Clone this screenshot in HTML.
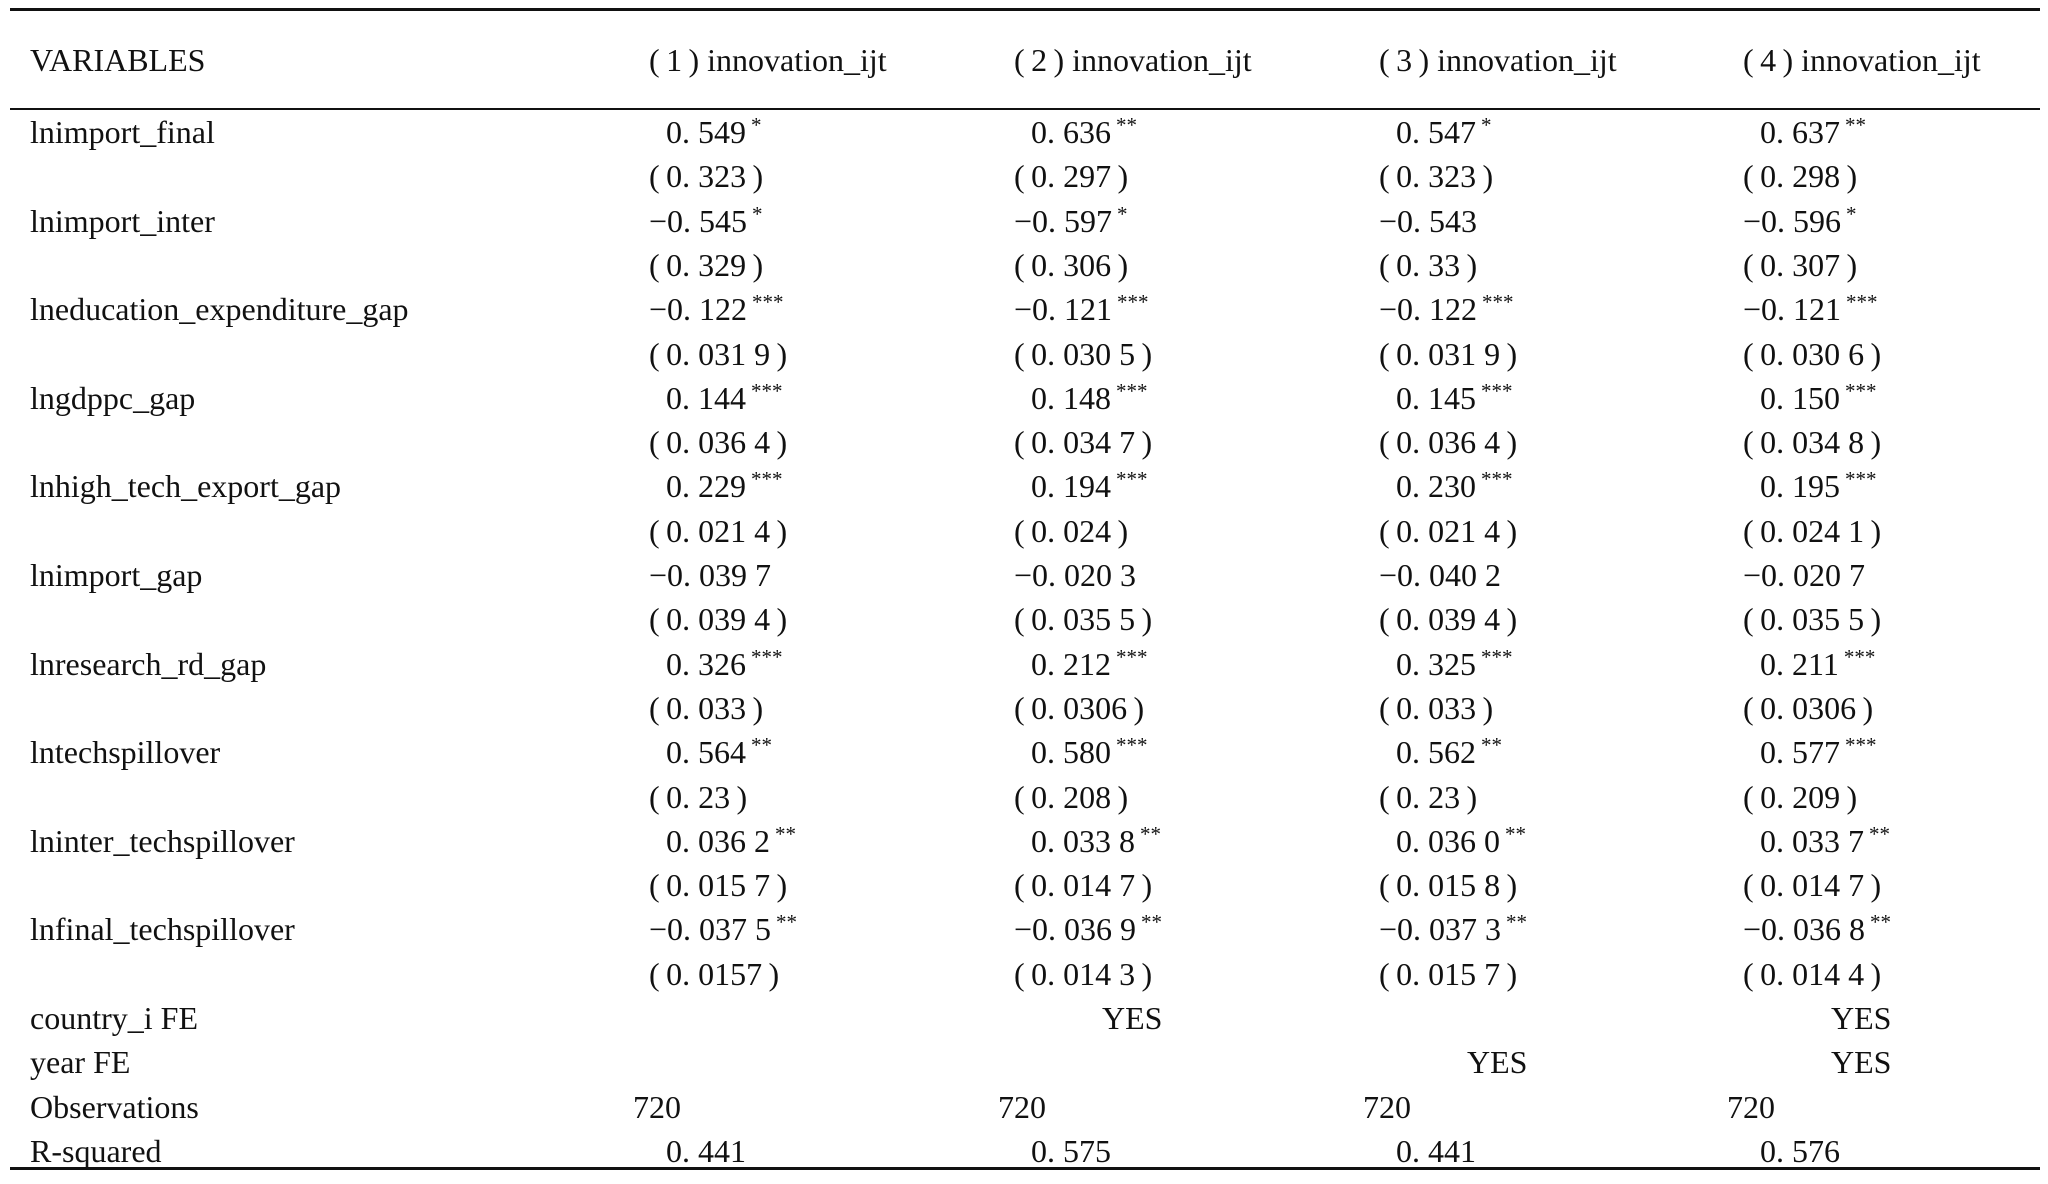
<!DOCTYPE html>
<html><head><meta charset="utf-8"><style>
body{margin:0;background:#fff;}
#t{position:relative;width:2048px;height:1184px;background:#fff;font-family:"Liberation Serif","Noto Serif CJK SC",serif;font-size:32px;color:#111;overflow:hidden;}
.c{position:absolute;white-space:pre;line-height:1;transform:translateY(-50%);}
.line{position:absolute;left:10px;width:2030px;background:#111;}
sup{font-size:21px;vertical-align:0;position:relative;top:-11px;margin-left:5px;}
</style></head><body>
<div id="t">
<div class="line" style="top:8px;height:3px"></div>
<div class="line" style="top:108px;height:1.5px"></div>
<div class="line" style="top:1167px;height:3px"></div>
</div>
<script>
const vars=["lnimport_final","lnimport_inter","lneducation_expenditure_gap","lngdppc_gap","lnhigh_tech_export_gap","lnimport_gap","lnresearch_rd_gap","lntechspillover","lninter_techspillover","lnfinal_techspillover"];
const coef=[
["0. 549|*","0. 636|**","0. 547|*","0. 637|**"],
["−0. 545|*","−0. 597|*","−0. 543|","−0. 596|*"],
["−0. 122|***","−0. 121|***","−0. 122|***","−0. 121|***"],
["0. 144|***","0. 148|***","0. 145|***","0. 150|***"],
["0. 229|***","0. 194|***","0. 230|***","0. 195|***"],
["−0. 039 7|","−0. 020 3|","−0. 040 2|","−0. 020 7|"],
["0. 326|***","0. 212|***","0. 325|***","0. 211|***"],
["0. 564|**","0. 580|***","0. 562|**","0. 577|***"],
["0. 036 2|**","0. 033 8|**","0. 036 0|**","0. 033 7|**"],
["−0. 037 5|**","−0. 036 9|**","−0. 037 3|**","−0. 036 8|**"]];
const se=[
["0. 323","0. 297","0. 323","0. 298"],
["0. 329","0. 306","0. 33","0. 307"],
["0. 031 9","0. 030 5","0. 031 9","0. 030 6"],
["0. 036 4","0. 034 7","0. 036 4","0. 034 8"],
["0. 021 4","0. 024","0. 021 4","0. 024 1"],
["0. 039 4","0. 035 5","0. 039 4","0. 035 5"],
["0. 033","0. 0306","0. 033","0. 0306"],
["0. 23","0. 208","0. 23","0. 209"],
["0. 015 7","0. 014 7","0. 015 8","0. 014 7"],
["0. 0157","0. 014 3","0. 015 7","0. 014 4"]];
const countryFE=["","YES","","YES"];
const yearFE=["","","YES","YES"];
const obs=["720","720","720","720"];
const r2=["0. 441","0. 575","0. 441","0. 576"];
const T=document.getElementById('t');
const colX=[649,1014,1379,1743];
const rowY=k=>132+k*44.3;
function add(x,y,html,name){const d=document.createElement('div');d.className='c';d.style.left=x+'px';d.style.top=y+'px';d.innerHTML=html;


T.appendChild(d);}
add(30,60,'VARIABLES','header-variables');
for(let j=0;j<4;j++)add(colX[j],60,'(\u2009'+(j+1)+'\u2009) innovation_ijt','header-col-'+(j+1));
vars.forEach((v,i)=>{
 add(30,rowY(2*i),v,'row-label');
 for(let j=0;j<4;j++){
  const [val,st]=coef[i][j].split('|');
  const neg=val[0]==='−';
  add(colX[j]+(neg?0:17),rowY(2*i),val+(st?'<sup>'+st+'</sup>':''),'coef-cell');
  add(colX[j],rowY(2*i+1),'(\u2009'+se[i][j]+'\u2009)','se-cell');
 }
});
const extra=[["country_i FE",countryFE,88],["year FE",yearFE,88],["Observations",obs,-16],["R-squared",r2,17]];
extra.forEach((e,k)=>{
 const y=rowY(20+k);
 add(30,y,e[0],'row-label');
 for(let j=0;j<4;j++) if(e[1][j]) add(colX[j]+e[2],y,e[1][j],'stat-cell');
});
</script>
</body></html>
